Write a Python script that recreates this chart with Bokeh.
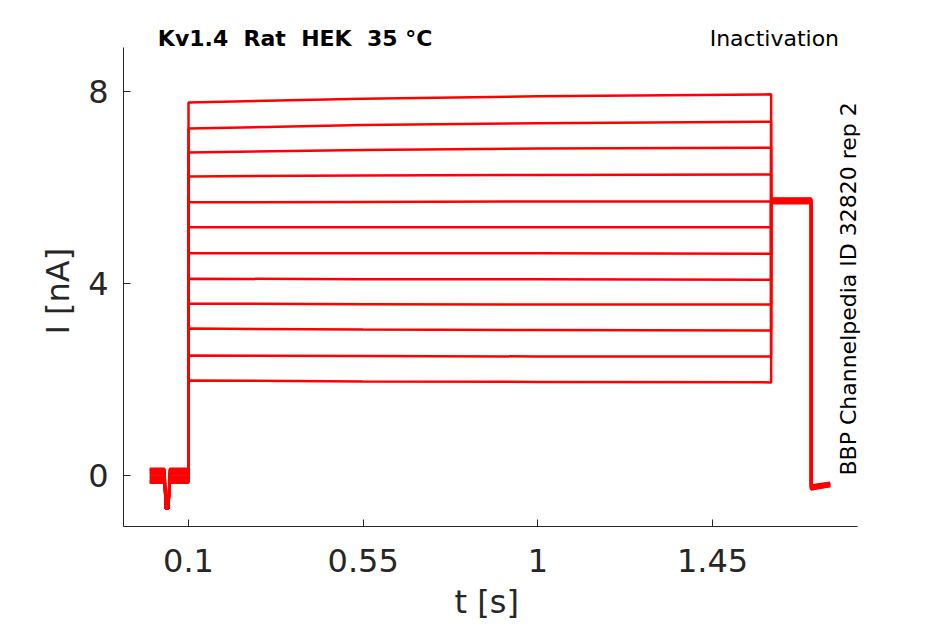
from bokeh.plotting import figure
from bokeh.models import ColumnDataSource, Label, FixedTicker, Title
from bokeh.embed import file_html
from bokeh.resources import INLINE

# ---- data ----
x_ticks = [0.1, 0.55, 1.0, 1.45]
x_tick_labels = ["0.1", "0.55", "1", "1.45"]
y_ticks = [0, 4, 8]
y_tick_labels = ["0", "4", "8"]

# sample times of the protocol (s)
t_pre = [0.0, 0.038, 0.042, 0.048, 0.052, 0.100]
t_step = [0.100, 0.55, 1.0, 1.601]
t_post = [1.601, 1.704]
t_tail = [1.704, 1.753]

# holding baseline (nA) of each sweep, and dip value
baseline = [0.14, -0.12, 0.08, -0.05, 0.11, -0.15, 0.02, 0.12, -0.09, 0.05, -0.02, -0.13]
dip = -0.69

# test-pulse current (nA) of each sweep at the t_step times
step_levels = [
    [7.77, 7.85, 7.90, 7.94],
    [7.23, 7.30, 7.34, 7.37],
    [6.73, 6.78, 6.81, 6.83],
    [6.23, 6.25, 6.26, 6.27],
    [5.69, 5.70, 5.71, 5.71],
    [5.17, 5.17, 5.17, 5.17],
    [4.63, 4.63, 4.63, 4.62],
    [4.10, 4.09, 4.09, 4.08],
    [3.58, 3.57, 3.56, 3.56],
    [3.06, 3.04, 3.03, 3.02],
    [2.50, 2.49, 2.48, 2.48],
    [1.98, 1.96, 1.95, 1.94],
]
# post-pulse level (nA) and tail current (nA) of each sweep
post_level = [5.75, 5.70, 5.73, 5.68, 5.76, 5.71, 5.74, 5.69, 5.72, 5.67, 5.77, 5.70]
tail_start = [-0.22, -0.27, -0.24, -0.29, -0.21, -0.26, -0.23, -0.28, -0.25, -0.22, -0.27, -0.24]
tail_end = [-0.16, -0.21, -0.18, -0.22, -0.15, -0.20, -0.17, -0.22, -0.19, -0.16, -0.21, -0.18]

title_text = "Kv1.4 \u00a0Rat \u00a0HEK \u00a035 \u00b0C"
protocol_text = "Inactivation"
source_text = "BBP Channelpedia ID 32820 rep 2"
x_label = "t [s]"
y_label = "I [nA]"

# axis extents (data) and plotting range (extra room for the texts)
x_axis_bounds = (-0.0675, 1.8235)
y_axis_bounds = (-1.0625, 8.917)
x_view = (-0.0675, 1.8828)
y_view = (-1.0625, 9.583)

# ---- build sweeps ----
xs, ys = [], []
for i, lv in enumerate(step_levels):
    b = baseline[i]
    x = t_pre + t_step + t_post + t_tail
    y = ([b, b, dip, dip, b, b] + lv + [post_level[i], post_level[i]]
         + [tail_start[i], tail_end[i]])
    xs.append(x)
    ys.append(y)
src = ColumnDataSource(dict(xs=xs, ys=ys))

INK = "#262626"
FONT = "DejaVu Sans"

p = figure(frame_width=757, frame_height=511,
           x_range=x_view, y_range=y_view,
           min_border_left=123, min_border_top=15,
           min_border_right=49, min_border_bottom=82,
           output_backend="svg", toolbar_location=None,
           background_fill_color="white", border_fill_color="white")
p.outline_line_color = None
p.grid.visible = False

p.multi_line(xs="xs", ys="ys", source=src, line_color="#ff0000", line_width=2.5)

for ax in (p.xaxis[0], p.yaxis[0]):
    ax.axis_line_color = INK
    ax.axis_line_width = 1
    ax.major_tick_line_color = INK
    ax.major_tick_in = 7
    ax.major_tick_out = 0
    ax.minor_tick_line_color = None
    ax.major_label_text_color = INK
    ax.major_label_text_font = FONT
    ax.major_label_text_font_size = "32px"

p.xaxis.bounds = x_axis_bounds
p.yaxis.bounds = y_axis_bounds
p.xaxis.ticker = FixedTicker(ticks=x_ticks)
p.xaxis.major_label_overrides = {t: l for t, l in zip(x_ticks, x_tick_labels)}
p.yaxis.ticker = FixedTicker(ticks=y_ticks)
p.yaxis.major_label_overrides = {t: l for t, l in zip(y_ticks, y_tick_labels)}
p.xaxis.major_label_standoff = 22
p.yaxis.major_label_standoff = 15

# axis titles, placed so that they centre on the axis lines
p.add_layout(Title(text=x_label, align="left", offset=331, vertical_align="top",
                   standoff=16, text_font=FONT, text_font_size="32px",
                   text_font_style="normal", text_color=INK), "below")
p.add_layout(Title(text=y_label, align="left", offset=192, vertical_align="bottom",
                   standoff=17, text_font=FONT, text_font_size="32px",
                   text_font_style="normal", text_color=INK), "left")

p.add_layout(Label(x=0.021, y=9.094, text=title_text, text_font=FONT,
                   text_font_style="bold", text_font_size="22px",
                   text_color="black", text_baseline="alphabetic"))
p.add_layout(Label(x=1.776, y=9.094, text=protocol_text, text_font=FONT,
                   text_font_size="22px", text_color="black",
                   text_align="right", text_baseline="alphabetic"))
p.add_layout(Label(x=1.8016, y=0.0, text=source_text, text_font=FONT,
                   text_font_size="22px", text_color="black", angle=1.5708,
                   text_align="left", text_baseline="alphabetic"))

open("out.html", "w").write(file_html(p, INLINE))
